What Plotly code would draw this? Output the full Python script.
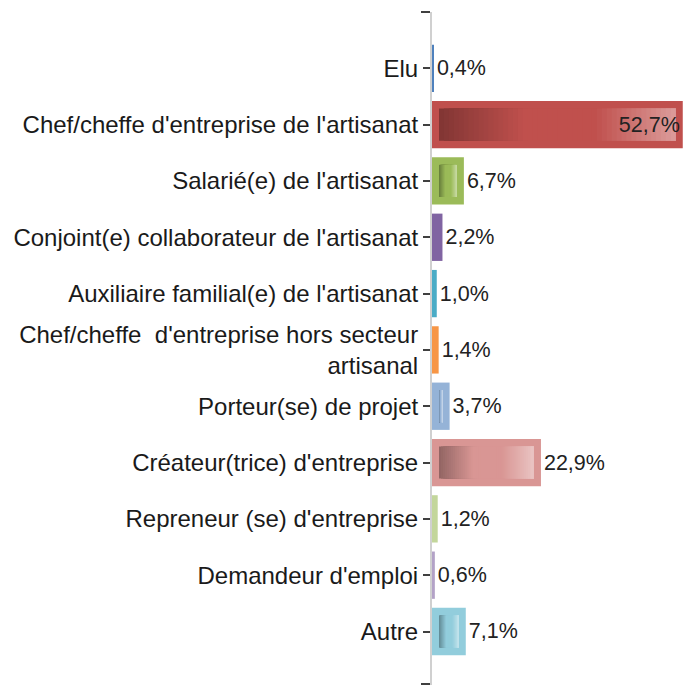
import plotly.graph_objects as go

# Data
categories = [
    "Elu",
    "Chef/cheffe d'entreprise de l'artisanat",
    "Salarié(e) de l'artisanat",
    "Conjoint(e) collaborateur de l'artisanat",
    "Auxiliaire familial(e) de l'artisanat",
    "Chef/cheffe  d'entreprise hors secteur<br>artisanal",
    "Porteur(se) de projet",
    "Créateur(trice) d'entreprise",
    "Repreneur (se) d'entreprise",
    "Demandeur d'emploi",
    "Autre",
]
values = [0.4, 52.7, 6.7, 2.2, 1.0, 1.4, 3.7, 22.9, 1.2, 0.6, 7.1]
bar_colors = ["#4F81BD", "#C0504D", "#9BBB59", "#8064A2", "#4BACC6", "#F79646",
              "#95B3D7", "#D99694", "#C3D69B", "#B3A2C7", "#92CDDC"]

positions = list(range(len(categories)))
FIG_W, FIG_H = 675, 677
LEFT = 424
X_MAX = 52.75
PLOT_W = FIG_W - LEFT
INSET = 7 * X_MAX / PLOT_W   # inner gradient inset (~7px)
N_SEG = 48


def to_rgb(h):
    h = h.lstrip("#")
    return [int(h[i:i + 2], 16) for i in (0, 2, 4)]


def mix(a, b, t):
    return [a[i] + (b[i] - a[i]) * t for i in range(3)]


def grad_color(hexcol, t):
    base = to_rgb(hexcol)
    dark = [c * 0.68 for c in base]
    light = mix(base, [255, 255, 255], 0.45)
    if t < 0.35:
        c = mix(dark, base, t / 0.35)
    elif t < 0.65:
        c = base
    else:
        c = mix(base, light, (t - 0.65) / 0.35)
    return "rgb(%d,%d,%d)" % tuple(round(v) for v in c)


fig = go.Figure()

# outer bars (solid)
fig.add_trace(go.Bar(y=positions, x=values, orientation="h", width=0.84,
                     marker=dict(color=bar_colors, line=dict(width=0)),
                     hoverinfo="skip"))

# inner gradient, drawn as overlapping slices
for k in range(N_SEG):
    t = k / N_SEG
    xs, bases, cols = [], [], []
    for v, col in zip(values, bar_colors):
        inner = v - 2 * INSET
        if inner > 0.4:
            start = INSET + inner * t
            bases.append(start)
            xs.append(v - INSET - start)
        else:
            bases.append(None)
            xs.append(None)
        cols.append(grad_color(col, t))
    fig.add_trace(go.Bar(y=positions, x=xs, base=bases, orientation="h", width=0.57,
                         marker=dict(color=cols, line=dict(width=0)),
                         hoverinfo="skip"))

# value labels
text_pos = ["inside" if v > 40 else "outside" for v in values]
fig.add_trace(go.Bar(y=positions, x=values, orientation="h", width=0.84,
                     marker=dict(color="rgba(0,0,0,0)", line=dict(width=0)),
                     texttemplate="%{x:.1f}%", textposition=text_pos,
                     insidetextanchor="end", constraintext="none", cliponaxis=False,
                     textfont=dict(family="Liberation Sans, Arial, sans-serif",
                                   size=21.5, color="#222222")))

# the page body adds an 8px offset, so the figure is smaller than the window
fig.update_layout(
    width=FIG_W, height=FIG_H,
    margin=dict(l=LEFT, r=0, t=4, b=0),
    barmode="overlay",
    separators=", ",
    showlegend=False,
    plot_bgcolor="white", paper_bgcolor="white",
    xaxis=dict(range=[0, X_MAX], visible=False),
    yaxis=dict(range=[10.95, -1], tickmode="array", tickvals=positions, ticktext=categories,
               ticks="outside", ticklen=7, tickwidth=2, tickcolor="#404040",
               showline=True, linecolor="#d0d0d0", linewidth=2,
               showgrid=False, zeroline=False, layer="below traces",
               tickfont=dict(family="Liberation Sans, Arial, sans-serif", size=24,
                             color="#1a1a1a"),
               minor=dict(tickvals=[-1, 10.93], ticks="outside", ticklen=9,
                          tickwidth=2, tickcolor="#404040", showgrid=False)),
)

fig.write_html("out.html")
